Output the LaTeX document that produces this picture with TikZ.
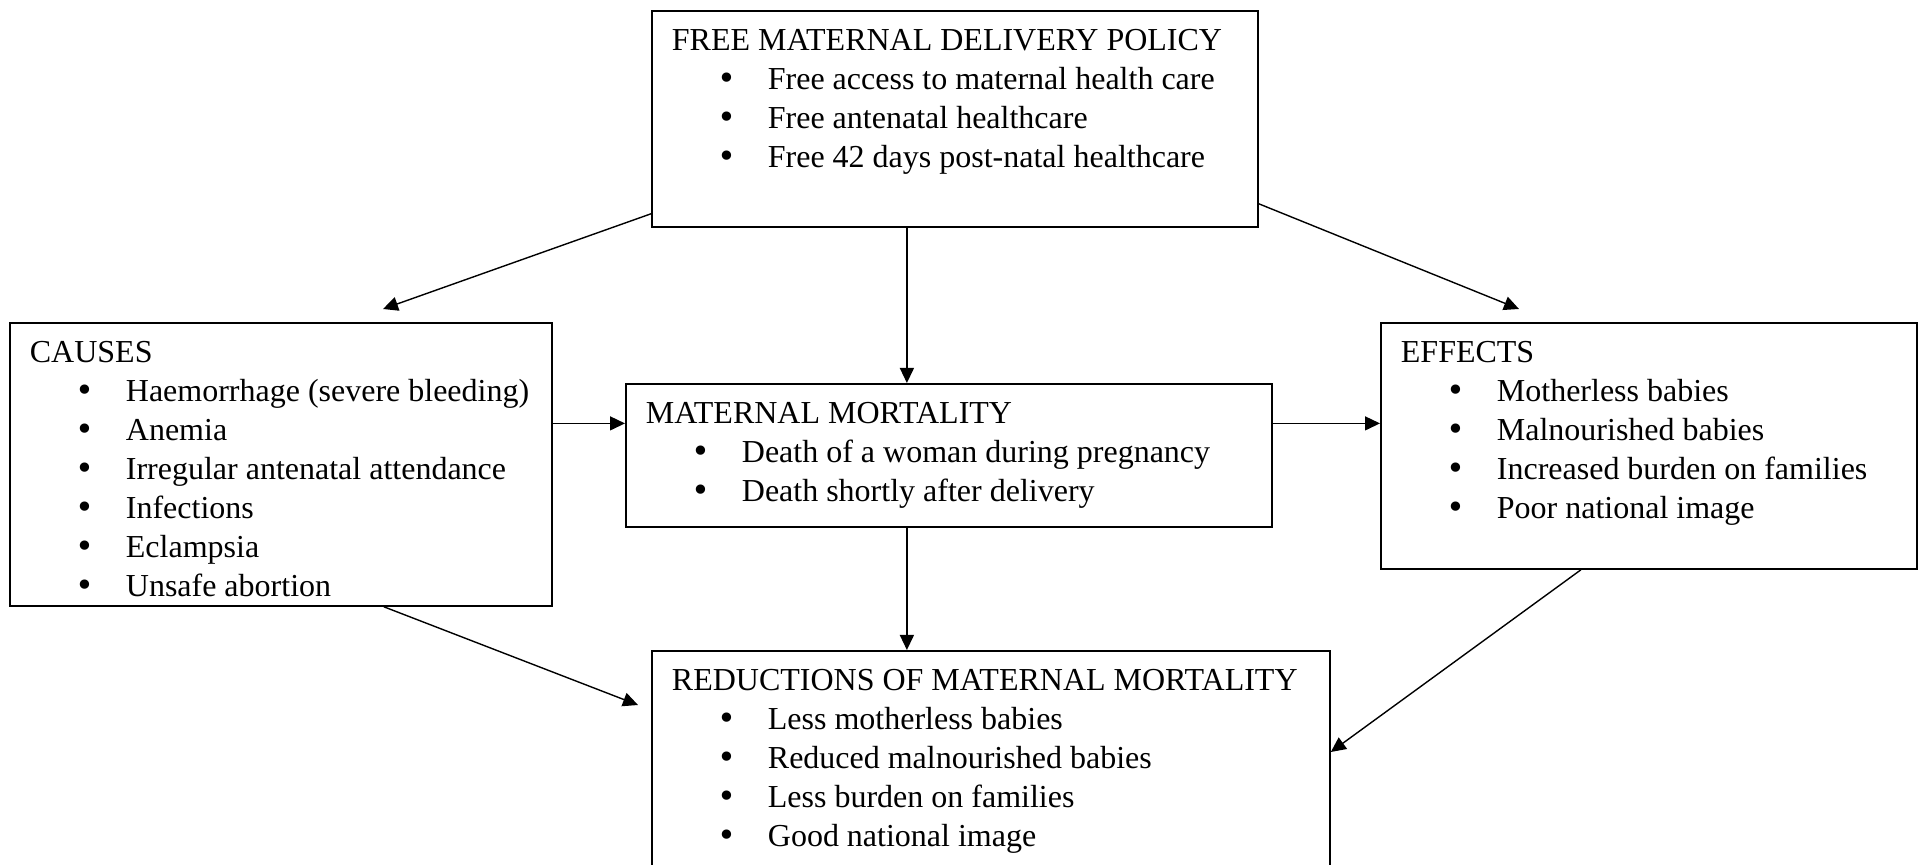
\documentclass[tikz,border=0pt]{standalone}
\usepackage{fontspec}
\setmainfont{Liberation Serif}
\newfontfamily\dotfont{DejaVu Sans}
\usetikzlibrary{arrows.meta,positioning}

\newcommand{\cardbody}[3]{\parbox[t][#1][t]{#2}{\rule{0pt}{20pt}#3}}
\newcommand{\bitem}[1]{\\\hspace*{27.5pt}\makebox[0pt]{\dotfont\textbullet}\hspace*{20.5pt}#1}

\tikzset{
    card/.style={draw, line width=0.9pt, anchor=north west, inner xsep=10pt, inner ysep=0pt,
        font=\fontsize{16}{19.5}\selectfont},
    arr/.style={-{Triangle[length=7.5pt,width=7pt]}, line width=0.7pt},
}

\begin{document}
\begin{tikzpicture}[x=0.5pt, y=-0.5pt]
    \useasboundingbox (0,0) rectangle (1918,865);

    \node[card] (policy) at (651,10) {%
\cardbody{108pt}{283pt}{FREE MATERNAL DELIVERY POLICY
\bitem{Free access to maternal health care}
\bitem{Free antenatal healthcare}
\bitem{Free 42 days post-natal healthcare}}};

    \node[card] (causes) at (9,322) {%
\cardbody{141.5pt}{251pt}{CAUSES
\bitem{Haemorrhage (severe bleeding)}
\bitem{Anemia}
\bitem{Irregular antenatal attendance}
\bitem{Infections}
\bitem{Eclampsia}
\bitem{Unsafe abortion}}};

    \node[card] (mortality) at (625,383) {%
\cardbody{71.5pt}{303pt}{MATERNAL MORTALITY
\bitem{Death of a woman during pregnancy}
\bitem{Death shortly after delivery}}};

    \node[card] (effects) at (1380,322) {%
\cardbody{123pt}{248pt}{EFFECTS
\bitem{Motherless babies}
\bitem{Malnourished babies}
\bitem{Increased burden on families}
\bitem{Poor national image}}};

    \node[card] (reductions) at (651,650) {%
\cardbody{120pt}{319pt}{REDUCTIONS OF MATERNAL MORTALITY
\bitem{Less motherless babies}
\bitem{Reduced malnourished babies}
\bitem{Less burden on families}
\bitem{Good national image}}};

    % free ends of the slanted arrows
    \coordinate (causes in) at (383,309);
    \coordinate (effects in) at (1519,309);
    \coordinate (reductions in) at (638,705);
    \coordinate (mm in) at ([yshift=16pt]mortality.west);

    \draw[arr] ([yshift=7pt]policy.south west) -- (causes in);
    \draw[arr] ([yshift=12pt]policy.south east) -- (effects in);
    \draw[arr] ([xshift=-24pt]policy.south) -- ([xshift=-24pt]policy.south |- mortality.north);
    \draw[arr] (causes.east |- mm in) -- (mm in);
    \draw[arr] (mortality.east |- mm in) -- (effects.west |- mm in);
    \draw[arr] ([xshift=-21pt]mortality.south) -- ([xshift=-21pt]mortality.south |- reductions.north);
    \draw[arr] ([xshift=51.5pt]causes.south) -- (reductions in);
    \draw[arr] ([xshift=-34pt]effects.south) -- ([yshift=-51pt]reductions.north east);
\end{tikzpicture}
\end{document}
